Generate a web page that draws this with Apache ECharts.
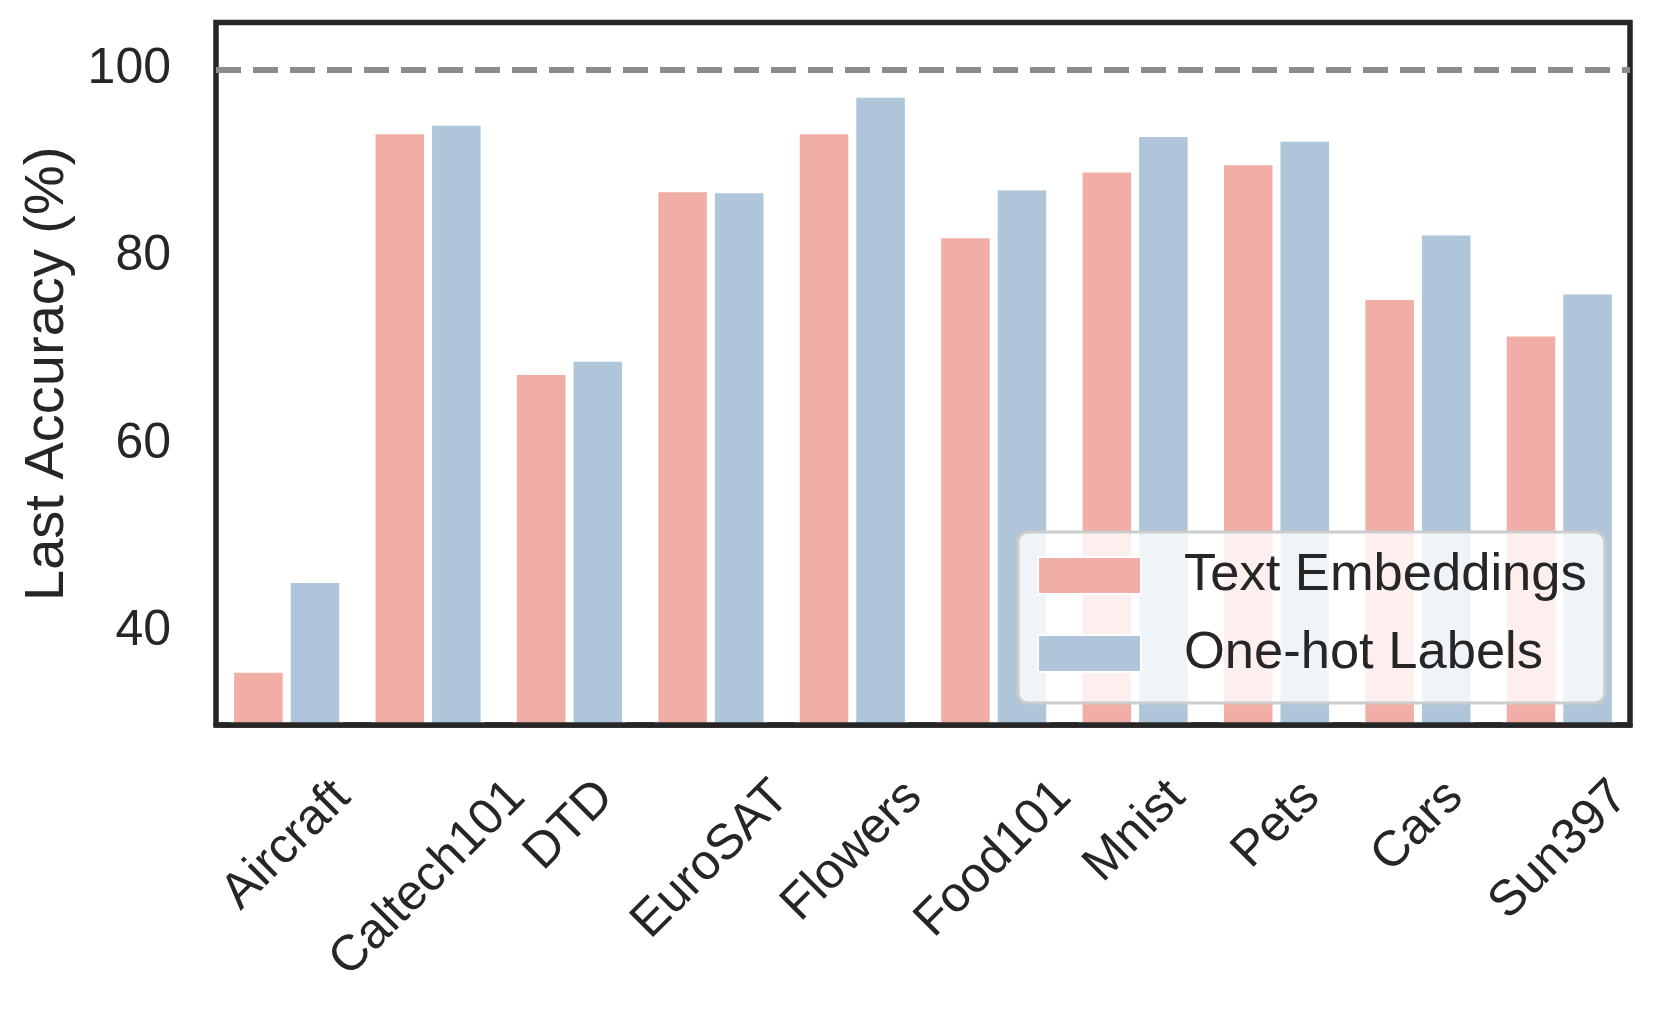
<!DOCTYPE html>
<html>
<head>
<meta charset="utf-8">
<script src="https://cdn.jsdelivr.net/npm/echarts@6/dist/echarts.min.js"></script>
<style>
html,body{margin:0;padding:0;background:#fff;}
#chart{width:1659px;height:1022px;}
</style>
</head>
<body>
<div id="chart"></div>
<script>
// ---- data ----
const categories = ['Aircraft','Caltech101','DTD','EuroSAT','Flowers','Food101','Mnist','Pets','Cars','Sun397'];
const textEmbeddings = [36.0, 93.5, 67.8, 87.3, 93.5, 82.4, 89.4, 90.2, 75.8, 71.9];
const oneHotLabels = [45.6, 94.4, 69.2, 87.2, 97.4, 87.5, 93.2, 92.7, 82.7, 76.4];
const seriesNames = ['Text Embeddings', 'One-hot Labels'];
const yTicks = [40, 60, 80, 100];
const yMin = 30, yMax = 105;
const refLine = 100;

// ---- style ----
const FONT = "'Liberation Sans', Arial, Helvetica, sans-serif";
const TXT = '#262626';
const FS = 50;
const ROT = 45;
const th = ROT * Math.PI / 180;

// per-label padding so rotated labels are centred like matplotlib (ha=center)
const ctx = document.createElement('canvas').getContext('2d');
ctx.font = FS + "px 'Liberation Sans'";
const lh = FS * 1.15, pad = 44;
const Hs = categories.map(c => ctx.measureText(c).width * Math.sin(th) + lh * Math.cos(th));
const Hmin = Math.min(...Hs);
const margin = pad + Hmin / 2;
const rich = {};
categories.forEach((c, i) => {
  const d = pad + Hs[i] / 2 - margin;
  rich['l' + i] = {
    fontSize: FS, fontFamily: FONT, color: TXT,
    padding: [2 * Math.cos(th) * d, 2 * Math.sin(th) * d, 0, 0]
  };
});

const chart = echarts.init(document.getElementById('chart'), null, {renderer: 'canvas'});
const option = {
  animation: false,
  backgroundColor: '#ffffff',
  grid: {left: 216, right: 29, top: 22.5, bottom: 297, show: true,
         borderColor: TXT, borderWidth: 5.5, backgroundColor: 'transparent'},
  legend: {
    left: 1018, top: 532,
    orient: 'vertical',
    icon: 'rect',
    itemWidth: 103, itemHeight: 37, itemGap: 25,
    padding: [17, 18, 23, 19],
    backgroundColor: 'rgba(255,255,255,0.8)',
    borderColor: '#cccccc', borderWidth: 3, borderRadius: 10,
    textStyle: {fontSize: 52.5, lineHeight: 52, fontFamily: FONT, color: TXT, padding: [0, 0, 0, 38]},
    data: seriesNames
  },
  xAxis: [{
    type: 'category', data: categories, z: 10,
    axisLine: {show: true, lineStyle: {color: TXT, width: 5.5}},
    axisTick: {show: false},
    axisLabel: {
      interval: 0, rotate: ROT, margin: margin, align: 'center', verticalAlign: 'middle',
      hideOverlap: false,
      formatter: (v, i) => '{l' + i + '|' + v + '}',
      rich: rich, fontSize: FS, fontFamily: FONT, color: TXT
    },
    splitLine: {show: false}
  }],
  yAxis: [{
    type: 'value', min: yMin, max: yMax,
    axisLine: {show: false}, axisTick: {show: false}, splitLine: {show: false},
    axisLabel: {customValues: yTicks, fontSize: FS, fontFamily: FONT, color: TXT, margin: 45},
    name: 'Last Accuracy (%)', nameLocation: 'middle', nameGap: 140,
    nameTextStyle: {fontSize: 56, fontFamily: FONT, color: TXT}
  }],
  series: [
    {
      name: seriesNames[0], type: 'bar', data: textEmbeddings,
      barWidth: '40%', barGap: '0%',
      itemStyle: {color: '#F0AEA7', borderColor: '#ffffff', borderWidth: 4},
      markLine: {
        silent: true, symbol: 'none', label: {show: false},
        lineStyle: {color: '#8c8c8c', width: 6, type: [25, 12]},
        data: [{yAxis: refLine}]
      }
    },
    {
      name: seriesNames[1], type: 'bar', data: oneHotLabels,
      barWidth: '40%', barGap: '0%',
      itemStyle: {color: '#AFC5D9', borderColor: '#ffffff', borderWidth: 4}
    }
  ]
};
chart.setOption(option);
</script>
</body>
</html>
